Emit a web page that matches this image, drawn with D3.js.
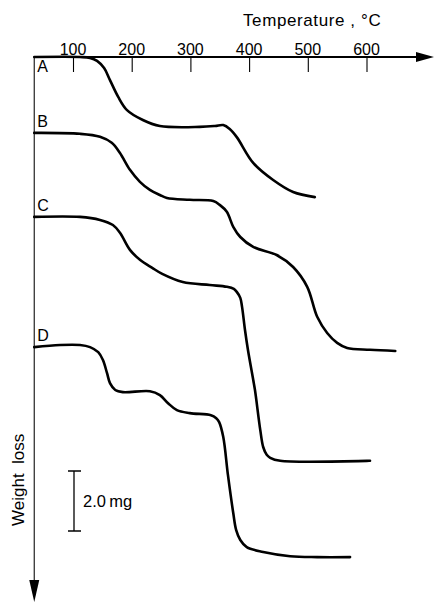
<!DOCTYPE html>
<html><head><meta charset="utf-8">
<script src="https://cdn.jsdelivr.net/npm/d3@7"></script>
<style>body{margin:0;background:#fff}svg{display:block}</style>
</head><body>
<svg id="chart" width="434" height="602"></svg>
<script>
// ---- data ----
const curveNames = ["A", "B", "C", "D"];
const curveOffsets = [0, 2.53, 5.33, 9.67]; // mg, vertical displacement of each trace
const tempA = [34,112,129,141,153,163,177,192,219,248,316,342,356,367,379,407,441,475,512];
const lossA = [0,0,0.03,0.13,0.37,0.77,1.33,1.77,2.1,2.3,2.33,2.3,2.27,2.4,2.67,3.53,4.1,4.5,4.67];
const tempB = [34,112,146,166,180,197,214,231,248,260,299,339,350,362,373,385,407,447,475,499,516,533,550,567,606,649];
const lossB = [0,0.03,0.13,0.33,0.67,1.23,1.63,1.9,2.07,2.17,2.23,2.27,2.4,2.63,3.13,3.47,3.8,4.07,4.47,5.13,6.13,6.67,7.0,7.17,7.23,7.27];
const tempC = [34,112,146,168,180,197,214,235,252,287,333,362,374,379,385,388,393,398,407,410,419,424,430,436,453,606];
const lossC = [0,0,0.1,0.27,0.53,1.1,1.43,1.7,1.9,2.17,2.27,2.33,2.4,2.5,2.7,3.0,3.77,4.43,5.43,5.77,7.1,7.67,7.93,8.03,8.13,8.13];
const tempD = [34,78,112,129,143,151,158,163,172,185,231,248,262,277,299,335,344,349,356,364,373,378,385,396,424,470,516,572];
const lossD = [0,-0.07,-0.07,0,0.17,0.43,0.87,1.2,1.43,1.5,1.47,1.6,1.87,2.1,2.2,2.27,2.37,2.5,3.0,4.27,5.53,6.1,6.43,6.67,6.83,6.97,7.0,7.0];
const tempTicks = [100, 200, 300, 400, 500, 600];
const scaleBarMg = 2.0;
const xTitle = "Temperature , \u00B0C";
const yTitle = "Weight  loss";

// ---- drawing ----
const svg = d3.select("#chart");
const x = d3.scaleLinear().domain([0, 700]).range([14.3, 14.3 + 0.587 * 700]);
const y = d3.scaleLinear().domain([0, 18]).range([57, 57 + 30 * 18]);
const font = "'Liberation Sans', Arial, sans-serif";
const x0 = x(34);

// y axis (weight loss, pointing down)
svg.append("line").attr("x1", x0).attr("x2", x0).attr("y1", y(0)).attr("y2", 584)
  .attr("stroke", "#222").attr("stroke-width", 1.2);
svg.append("path").attr("d", `M${x0-5},580 L${x0+5},580 L${x0},602 Z`).attr("fill", "#000");

// top temperature axis
const axisG = svg.append("g").attr("transform", `translate(0,${y(0)})`)
  .call(d3.axisBottom(x).tickValues(tempTicks).tickSize(15).tickFormat(""));
axisG.select(".domain").remove();
axisG.selectAll(".tick line").attr("stroke", "#000").attr("stroke-width", 1.1);
svg.append("line").attr("x1", x0).attr("x2", 418).attr("y1", y(0)).attr("y2", y(0))
  .attr("stroke", "#000").attr("stroke-width", 2.2);
svg.append("path").attr("d", `M416,${y(0)-5} L434,${y(0)} L416,${y(0)+5} Z`).attr("fill", "#000");

svg.append("g").selectAll("text").data(tempTicks).join("text")
  .attr("x", d => x(d)).attr("y", 55).attr("text-anchor", "middle")
  .attr("font-family", font).attr("font-size", 16).text(d => d);

svg.append("text").attr("x", 243).attr("y", 26).attr("font-family", font)
  .attr("font-size", 17).attr("letter-spacing", 0.6).style("white-space", "pre").text(xTitle);

svg.append("text").attr("transform", `translate(24,526) rotate(-90)`)
  .attr("font-family", font).attr("font-size", 17)
  .style("white-space", "pre").text(yTitle);

// curves
const temps = [tempA, tempB, tempC, tempD];
const losses = [lossA, lossB, lossC, lossD];
const line = d3.line().x(d => x(d[0])).y(d => y(d[1])).curve(d3.curveCatmullRom.alpha(0.5));
curveNames.forEach((name, i) => {
  const pts = temps[i].map((t, j) => [t, losses[i][j] + curveOffsets[i]]);
  svg.append("path").attr("d", line(pts)).attr("fill", "none")
    .attr("stroke", "#000").attr("stroke-width", 2.6).attr("stroke-linejoin", "round")
    .attr("stroke-linecap", "round");
  const ly = i === 0 ? y(curveOffsets[i]) + 15 : y(curveOffsets[i]) - 6;
  svg.append("text").attr("x", x0 + 3).attr("y", ly).attr("font-family", font)
    .attr("font-size", 16).text(name);
});

// 2.0 mg scale bar
const sbTop = y(13.8), sbBot = y(13.8 + scaleBarMg);
const sbX = 74;
svg.append("line").attr("x1", sbX).attr("x2", sbX).attr("y1", sbTop).attr("y2", sbBot)
  .attr("stroke", "#000").attr("stroke-width", 1.3);
[sbTop, sbBot].forEach(v => svg.append("line").attr("x1", sbX - 6).attr("x2", sbX + 7)
  .attr("y1", v).attr("y2", v).attr("stroke", "#000").attr("stroke-width", 1.5));
svg.append("text").attr("x", 83).attr("y", (sbTop + sbBot) / 2 + 6).attr("font-family", font)
  .attr("font-size", 16.5).style("white-space", "pre").text(scaleBarMg.toFixed(1) + "\u2009mg");
</script>
</body></html>
